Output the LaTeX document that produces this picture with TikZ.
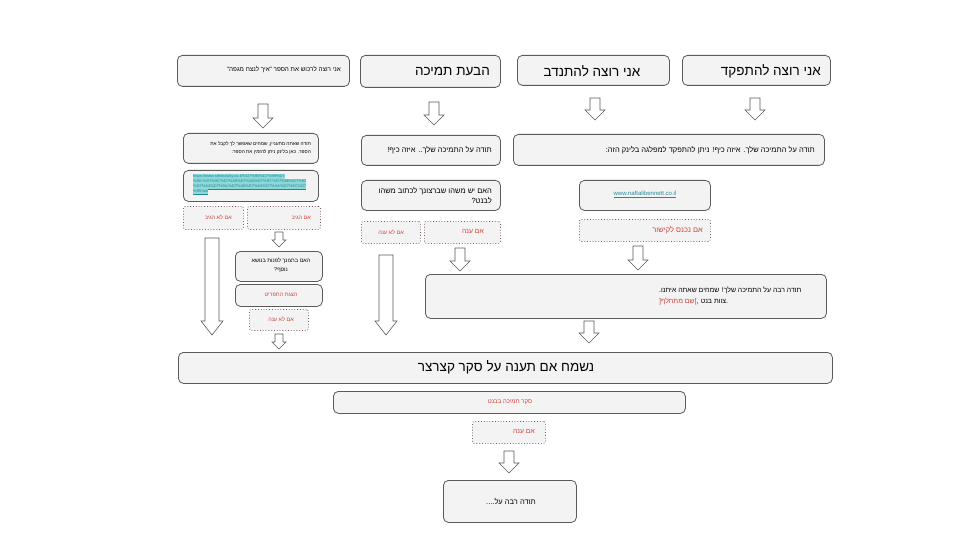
\documentclass[tikz,border=0pt]{standalone}
\usepackage{fontspec}
\setmainfont{Liberation Sans}
\newfontfamily\heb[Script=Hebrew]{Liberation Sans}
\TeXXeTstate=1
\definecolor{boxfill}{HTML}{F3F3F3}
\definecolor{boxline}{HTML}{5A5A5A}
\definecolor{redtxt}{HTML}{D0403A}
\definecolor{dotline}{HTML}{7A5A5A}
\definecolor{linktxt}{HTML}{1F8A99}
\definecolor{hilite}{HTML}{8FD8D8}
\newcommand\dnarrow[6]{% x, ytop, ybot, shaft half, head half, head length
  \draw[blockarrow] (#1-#4,#2) -- (#1+#4,#2) -- (#1+#4,#3-#6) -- (#1+#5,#3-#6) -- (#1,#3) -- (#1-#5,#3-#6) -- (#1-#4,#3-#6) -- cycle;}
\newcommand\mkbox[6]{% style, x1, y1, x2, y2, name
  \node[#1, anchor=north west, minimum width={#4-#2}, minimum height={#5-#3}] (#6) at (#2,#3) {};}
\tikzset{
  box/.style={draw=boxline, fill=boxfill, rounded corners=5pt, line width=0.8pt, inner sep=0pt},
  dbox/.style={draw=dotline, fill=boxfill, dotted, line width=0.8pt, rounded corners=2pt, inner sep=0pt},
  blockarrow/.style={draw=boxline, fill=white, line width=0.6pt},
  big/.style={font=\heb\fontsize{13.5}{16}\selectfont, inner sep=0pt},
  mid/.style={font=\heb\fontsize{7.5}{10}\selectfont, inner sep=0pt},
  sml/.style={font=\heb\fontsize{5.5}{8.5}\selectfont, inner sep=0pt},
  redl/.style={text=redtxt},
  linkline/.style={anchor=west, fill=hilite, text=linktxt, inner xsep=0pt, inner ysep=0.3pt, font=\fontsize{4}{5}\selectfont},
}
\begin{document}
\begin{tikzpicture}[x=1pt,y=-1pt]
\useasboundingbox[fill=white] (0,0) rectangle (960,540);
% top row
\mkbox{box}{177}{55}{349}{86}{a1}
\mkbox{box}{360}{55}{500}{87}{a2}
\mkbox{box}{517}{55}{669}{85}{a3}
\mkbox{box}{682}{55}{830}{85}{a4}
\node[sml, anchor=east, font=\heb\fontsize{6.3}{8}\selectfont] (ta1) at (341,70) {\beginR אני רוצה לרכוש את הספר "איך לנצח מגפה"\endR};
\node[big, anchor=east] (ta2) at (490,72) {\beginR הבעת תמיכה\endR};
\node[big] (ta3) at (592,71) {\beginR אני רוצה להתנדב\endR};
\node[big, anchor=east] (ta4) at (821,71) {\beginR אני רוצה להתפקד\endR};
\dnarrow{263}{104}{128}{5}{10}{10}
\dnarrow{434}{102}{125}{5}{10}{10}
\dnarrow{595}{98}{120}{5}{10}{10}
\dnarrow{755}{98}{120}{5}{10}{10}
% left column
\mkbox{box}{183}{133}{318}{163}{l1}
\node[sml, anchor=east, align=right, font=\heb\fontsize{4.8}{8}\selectfont] (tl1) at (311,148.5) {\beginR תודה שאתה מתעניין, שמחים שאפשר לך לקבל את\endR\\\beginR הספר. כאן בלינק ניתן להזמין את הספר:\endR};
\mkbox{box}{183}{170}{318}{201}{l2}
\node[linkline] (lk1) at (193,177) {\underline{https://www.steimatzky.co.il/\%D7\%90\%D7\%99\%D7}};
\node[linkline] (lk2) at (193,182) {\underline{\%9A-\%D7\%9C\%D7\%A0\%D7\%A6\%D7\%97-\%D7\%9E\%D7\%92}};
\node[linkline] (lk3) at (193,187) {\underline{\%D7\%A4\%D7\%94-\%D7\%A0\%D7\%A4\%D7\%AA\%D7\%9C\%D7}};
\node[linkline] (lk4) at (193,192) {\underline{\%99-bnt}};
\mkbox{dbox}{183}{206}{243}{229}{l3}
\mkbox{dbox}{247}{206}{320}{229}{l4}
\node[sml, redl, anchor=east] (tl3) at (232,217.5) {\beginR אם לא הגיב\endR};
\node[sml, redl, anchor=east] (tl4) at (311,217.5) {\beginR אם הגיב\endR};
\dnarrow{279}{232}{247}{4}{7}{7}
\dnarrow{212}{238}{335}{7}{11}{14}
\mkbox{box}{235}{251}{322}{281}{l5}
\node[sml, align=center] (tl5) at (281,265.5) {\beginR האם ברצונך לפנות בנושא\endR\\\beginR נוסף?\endR};
\mkbox{box}{235}{284}{322}{306}{l6}
\node[sml, redl] (tl6) at (281,295) {\beginR הצגת התפריט\endR};
\mkbox{dbox}{249}{309}{308}{330}{l7}
\node[sml, redl] (tl7) at (281,319.5) {\beginR אם לא ענה\endR};
\dnarrow{279}{334}{349}{4}{7}{7}
% middle column
\mkbox{box}{361}{135}{500}{165}{m1}
\node[mid, anchor=east] (tm1) at (492,150) {\beginR תודה על התמיכה שלך.. איזה כיף!\endR};
\mkbox{box}{361}{180}{500}{210}{m2}
\node[mid, anchor=east, align=right] (tm2) at (492,195.5) {\beginR האם יש משהו שברצונך לכתוב משהו\endR\\\beginR לבנט?\endR};
\mkbox{dbox}{361}{221}{420}{243}{m3}
\mkbox{dbox}{424}{221}{500}{243}{m4}
\node[sml, redl] (tm3) at (391,232) {\beginR אם לא ענה\endR};
\node[mid, redl, anchor=east, font=\heb\fontsize{6.8}{8}\selectfont] (tm4) at (484,232) {\beginR אם ענה\endR};
\dnarrow{460}{248}{271}{5}{10}{10}
\dnarrow{386}{255}{335}{7}{11}{14}
% right column
\mkbox{box}{513}{134}{824}{165}{r1}
\node[mid, anchor=east] (tr1) at (815,150) {\beginR תודה על התמיכה שלך. איזה כיף! ניתן להתפקד למפלגה בלינק הזה:\endR};
\mkbox{box}{579}{180}{710}{210}{r2}
\node[font=\fontsize{6}{8}\selectfont, text=linktxt, inner sep=0pt] (tr2) at (645,194.5) {\underline{www.naftalibennett.co.il}};
\mkbox{dbox}{579}{219}{710}{241}{r3}
\node[mid, redl, anchor=east] (tr3) at (703,230) {\beginR אם נכנס לקישור\endR};
\dnarrow{638}{246}{270}{5}{10}{10}
\mkbox{box}{425}{274}{826}{318}{r4}
\node[mid, anchor=west, font=\heb\fontsize{6.9}{9}\selectfont] (tr4a) at (659,290) {\beginR תודה רבה על התמיכה שלך! שמחים שאתה איתנו.\endR};
\node[mid, redl, anchor=west, font=\heb\fontsize{6.9}{9}\selectfont] (tr4b) at (659,301.5) {[\beginR שם מתחלף\endR]};
\node[mid, anchor=west, font=\heb\fontsize{6.9}{9}\selectfont] (tr4c) at (tr4b.east) {, \beginR צוות בנט\endR.};
\dnarrow{589}{321}{343}{5}{10}{10}
% bottom
\mkbox{box}{178}{352}{832}{383}{b1}
\node[big] (tb1) at (506,367.5) {\beginR נשמח אם תענה על סקר קצרצר\endR};
\mkbox{box}{333}{391}{685}{413}{b2}
\node[sml, redl, font=\heb\fontsize{6}{8}\selectfont] (tb2) at (510,402) {\beginR סקר תמיכה בבנט\endR};
\mkbox{dbox}{472}{421}{545}{443}{b3}
\node[mid, redl, anchor=east, font=\heb\fontsize{6.8}{8}\selectfont] (tb3) at (535,432) {\beginR אם ענה\endR};
\dnarrow{509}{451}{473}{5}{10}{10}
\mkbox{box}{443}{480}{576}{522}{b4}
\node[mid] (tb4) at (511,502) {\beginR תודה רבה על....\endR};
\end{tikzpicture}
\end{document}
